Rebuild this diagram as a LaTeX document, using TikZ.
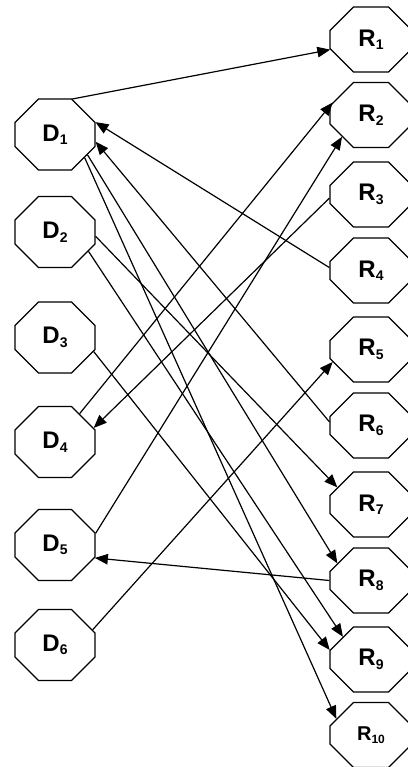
\documentclass[tikz,border=0pt]{standalone}
\usepackage{fontspec}
\setmainfont{Liberation Sans}
\usetikzlibrary{shapes.misc,arrows.meta}

% etiqueta con subindice
\newcommand{\nodelbl}[3][14]{\bfseries #2\raisebox{-3.5pt}{\fontsize{#1}{#1}\selectfont #3}}

\begin{document}
\begin{tikzpicture}[x=1pt, y=-1pt, >={Triangle[length=13pt,width=10.5pt]},
    octa/.style={draw, line width=1.2pt, chamfered rectangle, chamfered rectangle xsep=20pt,
        inner xsep=3pt, inner ysep=12pt, font=\fontsize{24}{24}\selectfont},
    dnode/.style={octa, minimum width=80pt, minimum height=71pt},
    rnode/.style={octa, minimum width=82pt, minimum height=65pt},
    link/.style={->, line width=1.2pt}]

    \useasboundingbox (0,0) rectangle (407,767);

    % 1. Nodos D (columna izquierda)
    \foreach \i/\y in {1/134.5, 2/232, 3/337.5, 4/442, 5/545, 6/645} {
        \node[dnode] (D\i) at (55,\y) {\nodelbl{D}{\i}};
    }

    % 2. Nodos R (columna derecha)
    \foreach \i/\y in {1/39.5, 2/115, 3/194.5, 4/270.5, 5/349.5, 6/425.5, 7/504.5, 8/580.5, 9/659.5} {
        \node[rnode] (R\i) at (371,\y) {\nodelbl{R}{\i}};
    }
    \node[rnode, font=\fontsize{20}{20}\selectfont] (R10) at (371,735) {\nodelbl[12]{R}{10}};

    % 3. Conexiones D -> R
    \draw[link] (D1.64) -- (R1.194);
    \draw[link] (D1.328) -- (R8.153);
    \draw[link] (D1.322) -- (R10.155);
    \draw[link] (D2.354) -- (R7.153);
    \draw[link] (D2.330) -- (R9.141);
    \draw[link] (D3.340) -- (R9.167);
    \draw[link] (D4.49) -- (R2.162);
    \draw[link] (D5.16) -- (R2.217);
    \draw[link] (D6.22) -- (R5.198);

    % 4. Conexiones R -> D
    \draw[link] (R3.185) -- (D4.20);
    \draw[link] (R4.176) -- (D1.17);
    \draw[link] (R6.175) -- (D1.350);
    \draw[link] (R8.180) -- (D5.342);

\end{tikzpicture}
\end{document}
